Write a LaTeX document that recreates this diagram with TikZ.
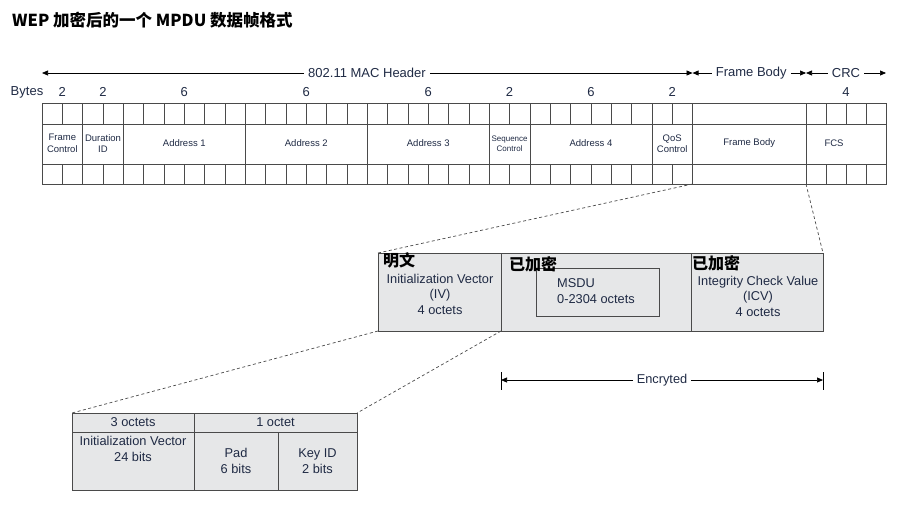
\documentclass[tikz,border=0pt]{standalone}
\usepackage{fontspec}
\setmainfont{Liberation Sans}
\newfontfamily\cjk{Noto Sans CJK SC}
\usetikzlibrary{arrows.meta,positioning}
\definecolor{ink}{HTML}{1F2A44}
\definecolor{gridc}{HTML}{4A4A4A}
\definecolor{boxgray}{HTML}{E6E7E8}
\tikzset{
  field/.style={draw=gridc, line width=0.8pt, anchor=north west, minimum height=81pt, inner sep=0pt, outer sep=0pt, align=center, text=ink, font=\fontsize{9.5}{11.5}\selectfont},
  cellrule/.style={draw=gridc, line width=0.8pt},
  hdr/.style={text=ink, font=\fontsize{13}{15}\selectfont, inner sep=4pt},
  spanarrow/.style={draw=black, line width=0.7pt, -{Triangle[length=6pt,width=5pt]}},
  graybox/.style={draw=gridc, fill=boxgray, line width=1pt, anchor=north west, inner sep=0pt, outer sep=0pt, align=center, text=ink, font=\fontsize{12.8}{15.5}\selectfont},
  txt/.style={text=ink, align=center, inner sep=0pt, font=\fontsize{12.8}{15.5}\selectfont},
  cjklabel/.style={anchor=north west, inner sep=0pt, font=\cjk\bfseries\fontsize{16}{18}\selectfont},
  zoomline/.style={draw=gridc, line width=0.7pt, dash pattern=on 3pt off 2.5pt},
}
\begin{document}
\begin{tikzpicture}[x=1pt,y=-1pt]
\useasboundingbox (0,0) rectangle (908,506);
% title
\node[anchor=west, inner sep=0pt, font=\cjk\bfseries\fontsize{16.5}{18}\selectfont] (title) at (12,20) {WEP 加密后的一个 MPDU 数据帧格式};

% MAC frame
\node[field, minimum width=40.66pt] (fctrl) at (42,103) {Frame\\Control};
\node[field, minimum width=40.66pt] (durid) at (fctrl.north east) {Duration\\ID};
\node[field, minimum width=121.98pt] (addr1) at (durid.north east) {Address 1};
\node[field, minimum width=121.98pt] (addr2) at (addr1.north east) {Address 2};
\node[field, minimum width=121.98pt] (addr3) at (addr2.north east) {Address 3};
\node[field, minimum width=40.66pt, font=\fontsize{8}{9.5}\selectfont] (seqctl) at (addr3.north east) {Sequence\\Control};
\node[field, minimum width=121.98pt] (addr4) at (seqctl.north east) {Address 4};
\node[field, minimum width=40.66pt] (qos) at (addr4.north east) {QoS\\Control};
\node[field, minimum width=113.44pt] (fbody) at (qos.north east) {Frame Body};
\node[field, minimum width=80pt] (fcs) at (fbody.north east) {};
\node[txt, font=\fontsize{9.5}{11.5}\selectfont] (fcslbl) at ([xshift=-12pt]fcs.center) {FCS};
\draw[cellrule] (42,124) -- (886,124) (42,164) -- (886,164);
\foreach \i in {1,...,31}
  \draw[cellrule] ({42+\i*20.33},103) -- ++(0,21) ({42+\i*20.33},164) -- ++(0,20);
\foreach \i in {1,2,3}
  \draw[cellrule] ({806+\i*20},103) -- ++(0,21) ({806+\i*20},164) -- ++(0,20);

% byte counts
\node[hdr] (bytes) at (27,92) {Bytes};
\node[hdr] at (fctrl |- bytes) {2};
\node[hdr] at (durid |- bytes) {2};
\node[hdr] at (addr1 |- bytes) {6};
\node[hdr] at (addr2 |- bytes) {6};
\node[hdr] at (addr3 |- bytes) {6};
\node[hdr] at (seqctl |- bytes) {2};
\node[hdr] at (addr4 |- bytes) {6};
\node[hdr] at (qos |- bytes) {2};
\node[hdr] at (fcs |- bytes) {4};

% spans
\node[hdr] (machdr) at (367,73) {802.11 MAC Header};
\draw[spanarrow] (machdr.west) -- (fctrl.west |- machdr);
\draw[spanarrow] (machdr.east) -- (qos.east |- machdr);
\node[hdr] (fbhdr) at ([xshift=2pt]fbody |- machdr) {Frame Body};
\draw[spanarrow] (fbhdr.west) -- (fbody.west |- fbhdr);
\draw[spanarrow] (fbhdr.east) -- (fbody.east |- fbhdr);
\node[hdr] (crchdr) at (fcs |- machdr) {CRC};
\draw[spanarrow] (crchdr.west) -- (fcs.west |- crchdr);
\draw[spanarrow] (crchdr.east) -- (fcs.east |- crchdr);

% WEP body
\node[graybox, minimum width=123pt, minimum height=78pt] (iv) at (378,253) {};
\node[graybox, minimum width=190pt, minimum height=78pt] (encpart) at (iv.north east) {};
\node[graybox, minimum width=132pt, minimum height=78pt] (icv) at (encpart.north east) {};
\node[graybox, minimum width=123pt, minimum height=48pt] (msdu) at (536,268) {};
\node[cjklabel] (plainlbl) at (383,252) {明文};
\node[txt] (ivtxt) at (440,294) {Initialization Vector\\(IV)\\4 octets};
\node[cjklabel] (enclbl) at (509,256) {已加密};
\node[txt, align=left, anchor=west] (msdutxt) at (557,291) {MSDU\\0-2304 octets};
\node[cjklabel] (icvlbl) at (692,255) {已加密};
\node[txt] (icvtxt) at (758,296) {Integrity Check Value\\(ICV)\\4 octets};

\node[txt, inner sep=4pt] (encry) at (662,380) {Encryted};
\draw[spanarrow] (encry.west) -- (encpart.west |- encry);
\draw[spanarrow] (encry.east) -- (icv.east |- encry);
\coordinate (encL) at (encpart.west |- encry);
\coordinate (encR) at (icv.east |- encry);
\draw[draw=black, line width=0.7pt] ([yshift=8pt]encL) -- ([yshift=-10pt]encL) ([yshift=8pt]encR) -- ([yshift=-10pt]encR);

% IV field
\node[graybox, minimum width=122pt, minimum height=19pt] (oct3) at (72,413) {3 octets};
\node[graybox, minimum width=163pt, minimum height=19pt] (oct1) at (oct3.north east) {1 octet};
\node[graybox, minimum width=122pt, minimum height=58pt] (ivbits) at (oct3.south west) {};
\node[txt] at (133,449) {Initialization Vector\\24 bits};
\node[graybox, minimum width=84pt, minimum height=58pt] (pad) at (ivbits.north east) {Pad\\6 bits};
\node[graybox, minimum width=79pt, minimum height=58pt] (keyid) at (pad.north east) {Key ID\\2 bits};

% zoom lines
\draw[zoomline] (fbody.south west) -- (iv.north west);
\draw[zoomline] (fbody.south east) -- (icv.north east);
\draw[zoomline] (iv.south west) -- (oct3.north west);
\draw[zoomline] (iv.south east) -- (oct1.north east);
\end{tikzpicture}
\end{document}
